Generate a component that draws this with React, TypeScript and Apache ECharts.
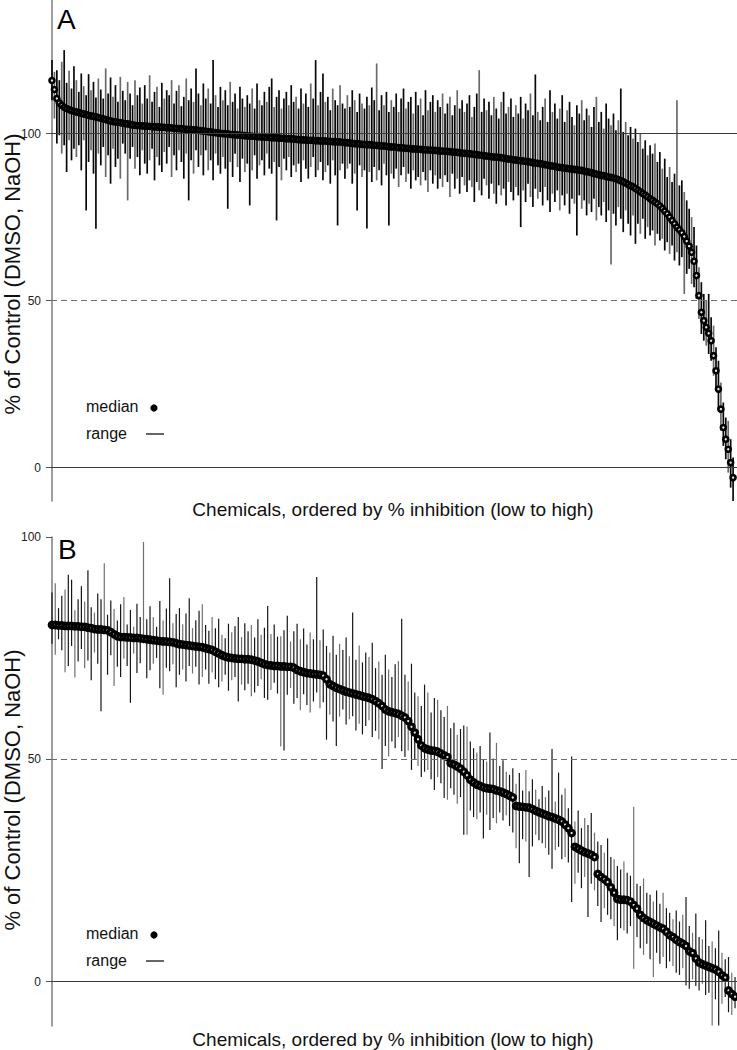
import React, { useEffect, useRef } from "react";
import * as echarts from "echarts";

// Panel A: medians and ranges per chemical (ordered by % inhibition)
const aMed = [
  115.9, 113.2, 110.5, 109.2, 108.5, 107.9, 107.5, 107.2, 106.9, 106.7,
  106.5, 106.3, 106.1, 105.9, 105.7, 105.5, 105.3, 105.2, 105.0, 104.8,
  104.6, 104.4, 104.2, 104.0, 103.8, 103.6, 103.5, 103.4, 103.3, 103.1,
  103.0, 102.9, 102.8, 102.6, 102.5, 102.4, 102.4, 102.3, 102.3, 102.2,
  102.2, 102.1, 102.1, 102.0, 102.0, 101.9, 101.9, 101.8, 101.8, 101.7,
  101.6, 101.6, 101.5, 101.5, 101.4, 101.3, 101.3, 101.2, 101.2, 101.1,
  101.0, 100.9, 100.8, 100.7, 100.6, 100.5, 100.4, 100.3, 100.2, 100.1,
  100.0, 100.0, 99.9, 99.8, 99.7, 99.7, 99.6, 99.5, 99.5, 99.4,
  99.3, 99.3, 99.2, 99.2, 99.1, 99.1, 99.0, 99.0, 98.9, 98.9,
  98.8, 98.8, 98.7, 98.7, 98.6, 98.6, 98.5, 98.5, 98.4, 98.4,
  98.3, 98.2, 98.2, 98.1, 98.1, 98.0, 98.0, 98.0, 97.9, 97.9,
  97.8, 97.8, 97.8, 97.7, 97.7, 97.6, 97.6, 97.6, 97.5, 97.4,
  97.3, 97.3, 97.2, 97.1, 97.0, 97.0, 96.9, 96.8, 96.8, 96.7,
  96.7, 96.6, 96.5, 96.5, 96.4, 96.3, 96.3, 96.2, 96.1, 96.0,
  96.0, 95.9, 95.8, 95.8, 95.7, 95.6, 95.6, 95.5, 95.4, 95.4,
  95.3, 95.3, 95.2, 95.2, 95.1, 95.1, 95.0, 95.0, 94.9, 94.8,
  94.8, 94.7, 94.7, 94.6, 94.5, 94.5, 94.4, 94.3, 94.2, 94.1,
  94.1, 94.0, 93.9, 93.8, 93.7, 93.6, 93.5, 93.4, 93.3, 93.2,
  93.1, 93.0, 93.0, 92.9, 92.8, 92.7, 92.5, 92.4, 92.3, 92.2,
  92.1, 92.0, 91.9, 91.8, 91.7, 91.6, 91.5, 91.3, 91.2, 91.1,
  91.0, 90.9, 90.7, 90.6, 90.4, 90.3, 90.2, 90.0, 89.9, 89.8,
  89.7, 89.6, 89.5, 89.4, 89.3, 89.2, 89.1, 89.0, 88.8, 88.6,
  88.5, 88.3, 88.1, 87.9, 87.7, 87.5, 87.4, 87.2, 87.0, 86.9,
  86.7, 86.5, 86.2, 85.9, 85.6, 85.2, 84.8, 84.4, 84.1, 83.6,
  83.1, 82.6, 82.1, 81.6, 81.1, 80.5, 80.0, 79.5, 79.0, 78.3,
  77.6, 76.8, 76.0, 75.0, 74.0, 73.0, 72.0, 71.2, 70.3, 69.2,
  67.8, 66.3, 64.5, 61.8, 57.5, 51.5, 46.5, 44.0, 42.0, 40.2,
  38.0, 33.5, 29.0, 23.5, 17.5, 12.0, 8.5, 5.5, 1.5, -3.0,
];
const aHi = [
  122.0, 118.5, 119.0, 116.0, 121.5, 125.0, 115.2, 118.8, 113.5, 120.2,
  116.0, 112.5, 118.0, 114.2, 111.5, 117.8, 113.0, 115.5, 110.8, 116.5,
  113.2, 110.5, 119.5, 112.0, 116.8, 111.0, 114.5, 109.5, 117.0, 112.8,
  110.0, 115.5, 112.0, 108.5, 116.0, 111.5, 113.8, 109.0, 114.5, 110.5,
  117.5, 109.5, 112.5, 114.0, 108.0, 115.2, 110.5, 113.0, 111.5, 116.0,
  109.0, 112.8, 114.5, 108.2, 111.0, 116.5, 110.0, 113.5, 109.5, 119.5,
  112.0, 108.5, 115.0, 110.5, 113.5, 109.0, 122.0, 111.5, 108.0, 114.0,
  110.0, 113.0, 108.5, 115.5, 109.5, 112.0, 107.5, 114.0, 110.5, 108.0,
  111.5, 109.0, 113.5, 107.5, 115.0, 110.0, 108.5, 112.5, 109.5, 114.0,
  116.5, 108.0, 111.0, 113.0, 107.5, 110.5, 112.5, 108.5, 114.5, 109.5,
  111.0, 107.5, 113.5, 109.0, 112.0, 108.0, 115.0, 110.5, 122.0, 108.5,
  112.5, 118.0, 109.5, 111.0, 107.0, 113.5, 110.0, 108.5, 114.5, 109.0,
  107.5, 111.5, 108.0, 113.0, 110.0, 106.5, 112.0, 109.0, 107.5, 111.0,
  108.5, 113.8, 110.0, 121.0, 107.0, 111.5, 108.5, 112.5, 106.5, 110.0,
  108.0, 112.0, 106.5, 110.5, 113.5, 107.5, 109.5, 111.0, 106.0, 112.5,
  108.5, 110.5, 105.5, 113.0, 107.0, 109.5, 111.5, 106.5, 110.0, 108.0,
  112.0, 106.0, 109.0, 111.0, 105.5, 108.5, 113.0, 107.5, 110.0, 106.5,
  109.0, 111.5, 105.0, 108.0, 112.0, 119.0, 106.5, 110.5, 107.0, 109.5,
  105.5, 111.0, 107.5, 104.5, 109.5, 112.5, 106.0, 108.0, 110.5, 105.0,
  108.5, 106.0, 111.0, 104.5, 109.0, 107.0, 112.0, 105.5, 117.7, 106.5,
  104.0, 108.0, 110.5, 103.5, 113.0, 106.5, 109.0, 104.5, 107.5, 111.5,
  103.5, 107.0, 109.5, 105.0, 102.5, 108.5, 106.0, 110.0, 104.0, 107.5,
  105.5, 102.0, 108.0, 111.0, 103.5, 106.5, 101.5, 109.0, 104.5, 102.5,
  106.0, 101.0, 104.0, 113.5, 100.5, 103.5, 99.5, 102.0, 98.5, 101.5,
  97.5, 100.0, 95.5, 98.0, 93.5, 96.5, 94.0, 97.0, 91.5, 94.5,
  89.5, 92.5, 87.0, 90.0, 85.5, 88.0, 110.0, 84.5, 86.0, 82.5,
  80.0, 77.5, 75.0, 72.0, 66.5, 60.0, 55.5, 52.0, 50.0, 52.0,
  45.0, 42.5, 36.0, 32.0, 25.5, 19.5, 15.0, 14.0, 8.5, 3.0,
];
const aLo = [
  110.0, 104.5, 97.0, 99.5, 94.0, 96.5, 88.5, 98.0, 92.0, 95.5,
  93.0, 96.5, 89.0, 98.0, 77.0, 91.5, 95.0, 88.0, 71.5, 94.0,
  90.5, 96.0, 87.0, 93.5, 85.0, 95.5, 90.0, 92.5, 86.5, 97.0,
  94.0, 80.0, 92.5, 96.0, 89.5, 93.0, 87.5, 95.0, 91.0, 88.0,
  92.0, 95.5, 86.0, 93.0, 90.5, 88.5, 94.5, 91.0, 96.0, 87.0,
  93.5, 89.0, 95.0, 91.5, 86.5, 94.0, 80.0, 92.0, 88.0, 95.0,
  90.0, 93.5, 87.5, 95.0, 89.0, 92.0, 86.0, 94.0, 90.5, 88.0,
  93.0, 89.5, 77.5, 91.5, 87.0, 94.0, 90.0, 85.5, 92.5, 88.5,
  91.0, 78.5, 89.0, 93.5, 86.5, 90.5, 92.0, 87.5, 94.0, 89.5,
  88.0, 91.5, 74.0, 90.0, 86.0, 92.5, 89.0, 93.0, 87.0, 90.5,
  88.5, 91.0, 85.5, 92.0, 89.5, 86.5, 90.0, 93.0, 87.0, 89.0,
  91.5, 86.0, 88.5, 90.5, 85.0, 92.0, 87.5, 72.5, 89.0, 91.0,
  86.5, 89.5, 91.0, 85.0, 88.0, 77.0, 90.5, 87.0, 89.0, 71.6,
  88.5, 85.5, 90.0, 86.0, 89.0, 84.5, 91.0, 87.5, 72.5, 88.0,
  86.5, 89.5, 84.0, 87.5, 90.0, 85.5, 88.0, 83.5, 89.0, 86.0,
  87.0, 84.5, 88.5, 86.0, 82.5, 89.0, 85.0, 87.5, 83.5, 86.5,
  84.0, 87.5, 85.5, 81.0, 88.0, 83.5, 86.5, 82.0, 87.0, 84.5,
  82.5, 86.0, 84.0, 79.5, 85.5, 83.0, 81.5, 86.5, 84.5, 80.5,
  85.0, 82.0, 79.0, 84.5, 81.5, 83.5, 78.5, 85.5, 82.5, 80.0,
  84.0, 81.5, 72.0, 83.0, 79.5, 85.0, 81.0, 78.0, 83.5, 80.5,
  82.5, 78.5, 84.0, 80.0, 76.5, 82.0, 79.5, 83.0, 77.0, 81.5,
  78.5, 82.0, 76.0, 80.5, 79.0, 69.5, 81.5, 77.5, 80.0, 75.5,
  79.0, 76.5, 80.5, 74.0, 78.0, 75.5, 79.5, 73.5, 77.0, 60.8,
  76.0, 72.5, 78.0, 74.5, 70.5, 77.0, 73.0, 69.5, 75.5, 67.0,
  73.0, 70.0, 74.5, 68.5, 72.0, 69.5, 71.0, 66.5, 70.0, 68.0,
  68.5, 65.0, 67.5, 64.0, 66.5, 62.0, 64.5, 60.5, 63.0, 52.0,
  58.0, 59.5, 55.0, 54.0, 50.5, 44.5, 40.0, 38.0, 36.5, 34.0,
  32.0, 27.5, 23.0, 17.5, 11.0, 6.5, 2.5, -1.5, -6.0, -10.0,
];

// Panel B
const bMed = [
  80.2, 80.2, 80.1, 80.1, 80.0, 80.0, 80.0, 79.9, 79.9, 79.8,
  79.8, 79.6, 79.5, 79.3, 79.2, 79.2, 79.1, 79.0, 78.6, 78.1,
  77.7, 77.5, 77.5, 77.4, 77.4, 77.3, 77.3, 77.2, 77.1, 77.0,
  76.9, 76.8, 76.7, 76.6, 76.5, 76.5, 76.4, 76.3, 76.1, 75.9,
  75.8, 75.7, 75.6, 75.5, 75.4, 75.3, 75.2, 75.0, 74.8, 74.6,
  74.2, 73.8, 73.4, 73.1, 72.9, 72.8, 72.7, 72.6, 72.6, 72.5,
  72.5, 72.4, 72.2, 72.0, 71.7, 71.4, 71.2, 71.1, 71.0, 71.0,
  70.9, 70.9, 70.8, 70.8, 70.6, 70.1, 69.8, 69.6, 69.4, 69.3,
  69.2, 69.1, 69.0, 68.8, 68.0, 66.9, 66.5, 66.1, 65.8, 65.5,
  65.2, 65.0, 64.8, 64.6, 64.4, 64.2, 64.0, 63.8, 63.5, 63.1,
  62.6, 62.0, 61.2, 60.8, 60.6, 60.4, 60.2, 59.8, 59.4, 58.6,
  57.3, 56.0, 54.5, 53.1, 52.5, 52.2, 52.0, 51.9, 51.7, 51.3,
  50.9, 50.5, 49.1, 48.8, 48.4, 47.9, 47.2, 46.4, 45.4, 44.8,
  44.3, 44.0, 43.7, 43.5, 43.4, 43.3, 43.0, 42.8, 42.5, 42.2,
  41.8, 41.4, 39.5, 39.4, 39.3, 39.2, 39.1, 38.8, 38.4, 38.1,
  37.8, 37.5, 37.2, 37.0, 36.7, 36.4, 36.0, 35.3, 34.5, 33.4,
  30.3, 29.9, 29.5, 29.1, 28.8, 28.5, 28.0, 24.2, 23.5, 23.0,
  22.4, 21.2, 20.0, 18.6, 18.4, 18.4, 18.3, 18.0, 17.2, 16.4,
  15.0, 14.3, 13.8, 13.4, 13.0, 12.6, 12.2, 11.9, 11.2, 10.4,
  10.0, 9.4, 8.9, 8.5, 8.0, 6.8, 6.4, 5.2, 4.3, 3.9,
  3.6, 3.3, 3.0, 2.7, 2.2, 1.4, 0.9, -2.0, -2.8, -3.4,
];
const bHi = [
  87.5, 89.6, 84.0, 86.8, 88.2, 91.5, 90.4, 83.5, 86.0, 88.9,
  85.5, 92.5, 84.2, 83.0, 87.3, 86.0, 94.1, 82.5, 85.7, 83.8,
  81.2, 84.9, 86.5, 80.3, 83.6, 79.8, 85.0, 82.0, 98.9, 81.5,
  84.4, 82.0, 79.8, 85.6, 81.2, 83.9, 90.7, 80.6, 82.7, 84.0,
  80.4, 82.8, 86.2, 79.5, 81.3, 83.4, 84.9, 80.2, 78.9, 82.0,
  79.5, 81.6, 78.0, 77.2, 80.5, 78.6, 79.9, 82.0, 77.5, 80.6,
  78.8, 80.2, 77.4, 81.5, 78.0, 79.6, 84.5, 78.2, 80.3, 77.6,
  77.7, 79.0, 82.3, 76.5, 78.8, 80.5, 77.0, 79.4, 75.8, 78.5,
  77.0, 91.0, 76.8, 79.2, 75.5, 74.0, 77.8, 73.5, 76.0, 74.6,
  77.4, 73.2, 83.0, 72.4, 75.6, 71.8, 74.0, 73.0, 76.2, 70.5,
  72.0, 69.0, 73.5, 70.2, 68.5, 71.4, 72.1, 81.6, 69.0, 67.5,
  71.5, 65.0, 64.2, 62.0, 66.8, 65.0, 60.5, 63.8, 63.4, 61.0,
  59.5, 62.0, 57.0, 58.2, 55.5, 56.8, 57.6, 57.4, 54.0, 52.5,
  51.5, 53.0, 50.0, 49.5, 56.0, 50.2, 53.7, 48.5, 49.8, 47.2,
  46.5, 48.0, 44.5, 46.9, 43.0, 47.6, 42.8, 45.5, 43.2, 41.0,
  44.0, 41.5, 43.0, 52.3, 40.5, 47.0, 42.0, 43.5, 39.0, 50.6,
  36.0, 38.5, 34.5, 36.8, 35.2, 37.9, 33.5, 31.5, 30.7, 29.0,
  32.2, 28.0, 27.5, 26.0, 25.2, 27.0, 24.5, 23.8, 39.3, 22.0,
  21.5, 23.2, 20.0, 19.5, 18.0, 20.5, 17.5, 20.0, 16.5, 15.5,
  14.0, 16.0, 13.5, 15.0, 19.0, 12.5, 11.0, 15.3, 10.0, 9.5,
  13.8, 8.0, 9.0, 7.5, 11.5, 6.5, 5.0, 5.5, 2.0, 1.0,
];
const bLo = [
  76.0, 73.5, 77.0, 74.5, 69.6, 71.0, 75.5, 68.4, 72.0, 74.8,
  70.5, 72.2, 67.8, 74.0, 71.5, 60.8, 78.5, 69.0, 73.4, 66.5,
  70.8, 68.5, 72.6, 71.0, 62.7, 73.8, 69.4, 71.6, 77.0, 68.2,
  70.0, 71.5, 72.8, 66.0, 64.5, 70.6, 69.8, 71.4, 66.2, 69.0,
  70.2, 67.5, 71.0, 69.3, 70.8, 66.8, 68.5, 70.2, 67.0, 69.5,
  68.0, 66.2, 67.5, 69.0, 65.4, 67.8, 68.5, 63.0, 66.8, 65.5,
  67.0, 64.2, 65.0, 66.5, 68.0, 63.8, 63.4, 65.6, 67.2, 64.8,
  52.9, 52.0, 64.5, 66.0, 62.5, 63.8, 61.0, 64.6, 62.2, 60.5,
  63.0, 65.0, 61.5, 62.8, 54.4, 60.0, 58.5, 53.0, 59.6, 61.2,
  57.8, 59.0, 59.7, 56.5, 58.0, 55.6, 57.5, 58.8, 55.0, 56.4,
  54.5, 47.8, 53.0, 50.6, 54.0, 52.5, 55.0, 51.8, 50.5, 52.0,
  47.6, 50.0, 48.5, 46.0, 47.2, 47.6, 45.5, 43.1, 46.0, 44.6,
  41.3, 40.9, 43.5, 42.0, 40.0, 41.5, 33.0, 33.0, 38.5, 37.0,
  36.5, 38.0, 32.2, 37.5, 34.1, 36.8, 35.6, 38.0, 36.2, 37.4,
  35.0, 33.5, 30.0, 26.6, 32.0, 31.5, 23.5, 30.4, 33.0, 31.8,
  31.1, 30.0, 28.5, 25.4, 29.6, 30.3, 27.5, 28.0, 26.8, 17.9,
  22.0, 24.5, 21.0, 23.5, 14.5, 22.0, 20.5, 17.0, 13.4, 16.5,
  15.0, 14.0, 12.5, 9.3, 12.0, 11.5, 10.8, 12.5, 2.9, 10.0,
  7.5, 6.0, 8.5, 5.0, 1.0, 6.5, 4.0, 5.5, 3.0, 4.5,
  3.5, 2.0, 1.5, 3.0, -0.9, -1.6, 0.5, -1.0, -2.0, -0.5,
  -3.0, -2.5, -9.9, -4.0, -9.9, -5.0, -3.5, -6.9, -7.5, -6.0,
];

const yTickValues = [0, 50, 100];
const xTitle = "Chemicals, ordered by % inhibition (low to high)";
const yTitle = "% of Control (DMSO, NaOH)";

const FONT = "'Liberation Sans', Arial, Helvetica, sans-serif";

function rangeData(lo: number[], hi: number[]) {
  return lo.map((l, i) => [i, l, hi[i]]);
}
function medData(m: number[]) {
  return m.map((v, i) => [i, v]);
}

function makeRangeSeries(lo: number[], hi: number[], axis: number, width: number, dark: string, light: string) {
  return {
    type: "custom",
    xAxisIndex: axis,
    yAxisIndex: axis,
    z: 2,
    silent: true,
    data: rangeData(lo, hi),
    renderItem: (params: any, api: any) => {
      const x = api.value(0);
      const p1 = api.coord([x, api.value(1)]);
      const p2 = api.coord([x, api.value(2)]);
      const idx = params.dataIndex;
      return {
        type: "line",
        shape: { x1: p1[0], y1: p1[1], x2: p2[0], y2: p2[1] },
        style: { stroke: idx % 3 === 1 ? light : dark, lineWidth: width },
      };
    },
  };
}

function yAxisCfg(axis: number, min: number, max: number) {
  return {
    type: "value",
    gridIndex: axis,
    min,
    max,
    axisLine: { show: true, lineStyle: { color: "#7d7d7d", width: 1.5 } },
    axisTick: { show: true, length: 6, customValues: yTickValues, lineStyle: { color: "#555", width: 1 } },
    axisLabel: { show: true, customValues: yTickValues, color: "#222", fontSize: 12, fontFamily: FONT, margin: 10 },
    splitLine: { show: false },
  };
}

function refLines(withTop: boolean) {
  const data: any[] = [];
  if (withTop) data.push({ yAxis: 100, lineStyle: { color: "#3c3c3c", width: 1, type: "solid" } });
  data.push({ yAxis: 50, lineStyle: { color: "#6e6e6e", width: 1, type: [6, 4] } });
  data.push({ yAxis: 0, lineStyle: { color: "#3c3c3c", width: 1, type: "solid" } });
  return { silent: true, symbol: ["none", "none"], label: { show: false }, data };
}

function legend(yMed: number, yRange: number) {
  return [
    { type: "text", left: 86, top: yMed - 10, style: { text: "median", font: `16px ${FONT}`, fill: "#111" } },
    { type: "circle", shape: { cx: 154, cy: yMed, r: 3.6 }, style: { fill: "#000" } },
    { type: "text", left: 86, top: yRange - 10, style: { text: "range", font: `16px ${FONT}`, fill: "#111" } },
    { type: "line", shape: { x1: 146, y1: yRange - 1, x2: 164, y2: yRange - 1 }, style: { stroke: "#000", lineWidth: 1.2 } },
  ];
}

export default function App() {
  const ref = useRef<HTMLDivElement>(null);
  useEffect(() => {
    if (!ref.current) return;
    const chart = echarts.init(ref.current, undefined, { renderer: "svg" });
    const option: any = {
      animation: false,
      backgroundColor: "#fff",
      grid: [
        { left: 51, top: 0, width: 686, height: 501 },
        { left: 51, top: 537, width: 686, height: 489 },
      ],
      xAxis: [
        { type: "value", gridIndex: 0, min: -0.4, max: 280.6, show: false },
        { type: "value", gridIndex: 1, min: -0.3, max: 209.6, show: false },
      ],
      yAxis: [yAxisCfg(0, -10, 140), yAxisCfg(1, -10, 100)],
      series: [
        makeRangeSeries(aLo, aHi, 0, 1.7, "#080808", "#6a6a6a"),
        {
          type: "scatter",
          xAxisIndex: 0,
          yAxisIndex: 0,
          z: 4,
          silent: true,
          symbol: "circle",
          symbolSize: 5,
          itemStyle: { color: "#e6e6e6", borderColor: "#000", borderWidth: 2.6, opacity: 1 },
          data: medData(aMed),
          markLine: refLines(true),
        },
        makeRangeSeries(bLo, bHi, 1, 1.2, "#161616", "#707070"),
        {
          type: "scatter",
          xAxisIndex: 1,
          yAxisIndex: 1,
          z: 4,
          silent: true,
          symbol: "circle",
          symbolSize: 5.5,
          itemStyle: { color: "#e0e0e0", borderColor: "#000", borderWidth: 3.2, opacity: 1 },
          data: medData(bMed),
          markLine: refLines(false),
        },
      ],
      graphic: [
        { type: "text", left: 57, top: 5, style: { text: "A", font: `28px ${FONT}`, fill: "#000" } },
        { type: "text", left: 58, top: 535, style: { text: "B", font: `28px ${FONT}`, fill: "#000" } },
        ...legend(408, 435),
        ...legend(935, 962),
        { type: "text", x: 393, y: 509, style: { text: xTitle, font: `19px ${FONT}`, fill: "#111", align: "center", verticalAlign: "middle" } },
        { type: "text", x: 393, y: 1039, style: { text: xTitle, font: `19px ${FONT}`, fill: "#111", align: "center", verticalAlign: "middle" } },
        { type: "text", x: 12, y: 274, rotation: Math.PI / 2, style: { text: yTitle, font: `22px ${FONT}`, fill: "#111", align: "center", verticalAlign: "middle" } },
        { type: "text", x: 12, y: 790, rotation: Math.PI / 2, style: { text: yTitle, font: `22px ${FONT}`, fill: "#111", align: "center", verticalAlign: "middle" } },
      ],
    };
    chart.setOption(option);
    return () => chart.dispose();
  }, []);
  return <div ref={ref} style={{ position: "absolute", left: 0, top: 0, width: 737, height: 1050 }} />;
}
